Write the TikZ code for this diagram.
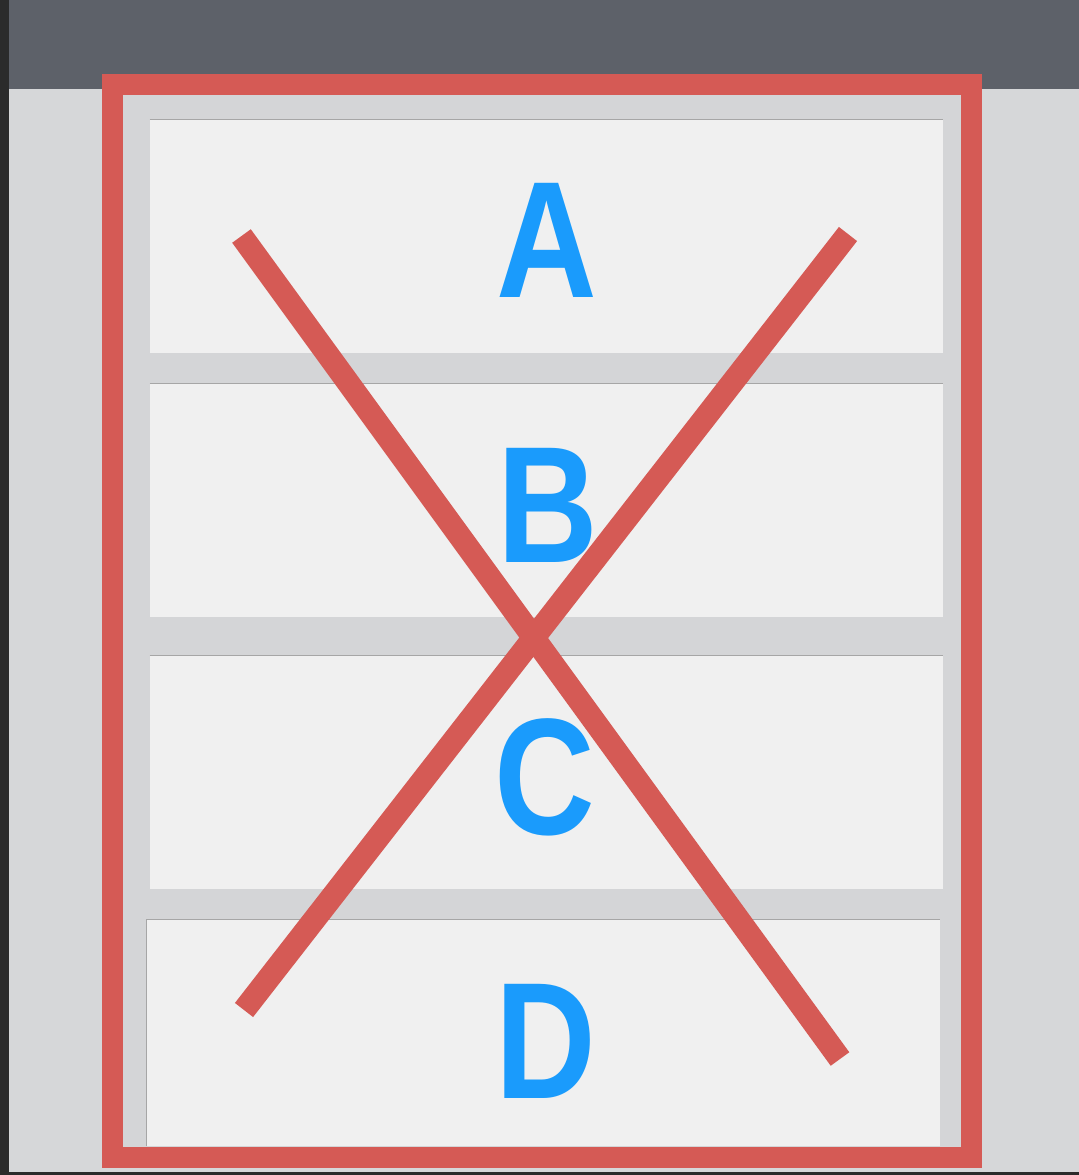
\documentclass[tikz,border=0pt]{standalone}
\usepackage{fontspec}
\setmainfont{Liberation Sans}
\newfontfamily\letterfont[FakeStretch=0.84]{Liberation Sans}
\begin{document}
\begin{tikzpicture}[x=0.5pt,y=-0.5pt,
  panel/.style={fill=boxfill,draw=none},
  letter/.style={text=letterblue,font=\letterfont\fontsize{83}{90}\selectfont\bfseries,inner sep=0pt},
  redline/.style={draw=framered,line width=11.5pt},
]
\definecolor{darkstrip}{HTML}{2B2B2B}
\definecolor{topbar}{HTML}{5D6169}
\definecolor{bggray}{HTML}{D6D7D9}
\definecolor{innergray}{HTML}{D4D5D7}
\definecolor{boxfill}{HTML}{F0F0F0}
\definecolor{framered}{HTML}{D55A55}
\definecolor{letterblue}{HTML}{1A9BFC}
\useasboundingbox (0,0) rectangle (1079,1175);
% background
\fill[darkstrip] (0,0) rectangle (1079,1175);
\fill[bggray] (9,89) rectangle (1079,1172);
\fill[topbar] (9,0) rectangle (1079,89);
% inner area
\fill[innergray] (111,84) rectangle (971,1157);
% boxes
\node[panel,minimum width=396.5pt,minimum height=116.5pt,inner sep=0pt] (boxA) at (546.5,236.5) {};
\node[panel,minimum width=396.5pt,minimum height=116.5pt,inner sep=0pt] (boxB) at (546.5,500.5) {};
\node[panel,minimum width=396.5pt,minimum height=116.5pt,inner sep=0pt] (boxC) at (546.5,772.5) {};
\node[panel,minimum width=396.5pt,minimum height=113pt,inner sep=0pt] (boxD) at (543.5,1033) {};
\draw[gray!70,line width=0.4pt] (boxA.north west) -- (boxA.north east);
\draw[gray!70,line width=0.4pt] (boxB.north west) -- (boxB.north east);
\draw[gray!70,line width=0.4pt] (boxC.north west) -- (boxC.north east);
\draw[gray!70,line width=0.4pt] (boxD.south west) -- (boxD.north west) -- (boxD.north east);
% letters
\node[letter] (la) at (547,240.5) {A};
\node[letter] (lb) at (548,505) {B};
\node[letter] (lc) at (545,777) {C};
\node[letter] (ld) at (546,1041) {D};
% frame
\node[draw=framered,line width=10.5pt,minimum width=429.5pt,minimum height=536.5pt,inner sep=0pt] (frame) at (541.5,620.5) {};
% cross
\coordinate (x1a) at (241.5,236);
\coordinate (x1b) at (840,1059);
\coordinate (x2a) at (848,234);
\coordinate (x2b) at (244,1010);
\draw[redline] (x1a) -- (x1b);
\draw[redline] (x2a) -- (x2b);
\end{tikzpicture}
\end{document}
